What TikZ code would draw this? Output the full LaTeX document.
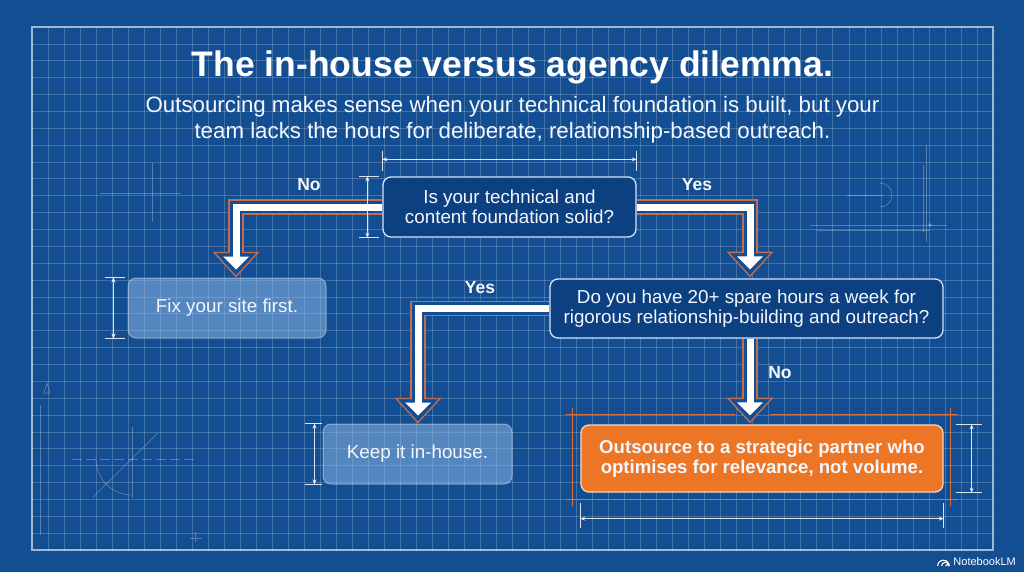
\documentclass[tikz,border=0pt]{standalone}
\usepackage{fontspec}
\setmainfont{Liberation Sans}
\usetikzlibrary{calc,arrows.meta}
\definecolor{bgc}{RGB}{19,78,147}
\definecolor{qfill}{RGB}{12,64,128}
\definecolor{qborder}{RGB}{214,228,245}
\definecolor{arroworange}{RGB}{196,108,80}
\definecolor{frameorange}{RGB}{220,112,60}
\definecolor{boxorange}{RGB}{236,117,38}
\definecolor{boxorangeborder}{RGB}{250,214,186}
\definecolor{lightbox}{RGB}{150,190,235}
\definecolor{txt}{RGB}{244,247,252}
\pgfdeclarelayer{bglayer}
\pgfdeclarelayer{arrowlayer}
\pgfsetlayers{bglayer,arrowlayer,main}
% #1 path operation, #2 start, #3 tip
\newcommand\bparrow[3][-|]{%
  \draw[arrowband] (#2) #1 ($(#3)+(0,-24)$);
  \filldraw[fill=bgc, draw=arroworange, line width=1.3, line join=miter] ($(#3)+(-22,-24)$) -- (#3) -- ($(#3)+(22,-24)$) -- cycle;
  \draw[arrowgap] (#2) #1 ($(#3)+(0,-23)$);
  \draw[arrowshaft] (#2) #1 ($(#3)+(0,-19)$);
  \fill[white] ($(#3)+(-13,-20)$) -- ($(#3)+(0,-7)$) -- ($(#3)+(13,-20)$) -- cycle;
}
\begin{document}
\begin{tikzpicture}[x=1pt,y=-1pt,
  gridline/.style={white, opacity=0.2, line width=0.7},
  framestyle/.style={white, opacity=0.6, line width=1.1},
  deco/.style={white, opacity=0.28, line width=0.7},
  dimline/.style={white, opacity=0.85, line width=0.8, {Stealth[length=5pt,width=4pt]}-{Stealth[length=5pt,width=4pt]}},
  dimtick/.style={white, opacity=0.85, line width=0.8},
  orangeframe/.style={frameorange, line width=1.1},
  arrowband/.style={draw=arroworange, line width=15.3, line join=miter},
  arrowgap/.style={draw=bgc, line width=12.7, line join=miter},
  arrowshaft/.style={draw=white, line width=7, line join=miter},
  boxtext/.style={text=txt, align=center, font=\fontsize{18.8}{20}\selectfont},
  qbox/.style={boxtext, draw=qborder, fill=qfill, line width=1.3, rounded corners=8, inner sep=0pt},
  lbox/.style={boxtext, draw=white, draw opacity=0.4, fill=lightbox, fill opacity=0.5, text opacity=1, line width=1, rounded corners=8, inner sep=0pt},
  obox/.style={boxtext, font=\fontsize{18.6}{19.5}\selectfont\bfseries, draw=boxorangeborder, fill=boxorange, line width=1.3, rounded corners=8, inner sep=0pt},
  lab/.style={text=txt, font=\fontsize{17.5}{20}\selectfont\bfseries, inner sep=0pt}
]
\useasboundingbox (0,0) rectangle (1024,572);

\begin{pgfonlayer}{bglayer}
\fill[bgc] (0,0) rectangle (1024,572);
\foreach \i in {1,...,59} \draw[gridline] ({32+\i*16.0167},27) -- ++(0,523);
\foreach \j in {1,...,30} \draw[gridline] (32,{27+\j*16.871}) -- ++(961,0);
\draw[framestyle] (32,27) rectangle (993,550);
% faint drafting marks
\draw[deco, dash pattern=on 10pt off 4pt] (72,459) -- (194,459);
\draw[deco] (132,427) -- (132,498);
\draw[deco] (93,497) -- (158,433);
\draw[deco] (96,459) arc[start angle=180, end angle=90, radius=36];
\draw[deco] (40,405) -- (40,535);
\draw[deco] (44,393) -- (50,393) -- (47,383) -- cycle;
\draw[deco] (190,538) -- (202,538) (195,532) -- (195,542);
\draw[deco] (100,193) -- (181,193);
\draw[deco] (152,163) -- (152,222);
\draw[deco] (923,165) -- (923,232);
\draw[deco] (926,145) -- (926,242);
\draw[deco] (810,225) -- (947,225);
\draw[deco] (817,230) -- (930,230);
\draw[deco] (847,195) -- (883,195);
\draw[deco] (880,183) arc[start angle=-90, end angle=90, radius=12];
\fill[white, opacity=0.3] (930,225) circle (1.8);
\end{pgfonlayer}

% title
\node[anchor=base, text=white, font=\fontsize{35.5}{40}\selectfont\bfseries, inner sep=0pt] (title) at (512.5,77) {The in-house versus agency dilemma.};
\node[text=txt, align=center, font=\fontsize{22.3}{26}\selectfont, inner sep=0pt] (subtitle) at (512.5,120)
  {Outsourcing makes sense when your technical foundation is built, but your\\team lacks the hours for deliberate, relationship-based outreach.};

% boxes
\node[qbox, minimum width=253, minimum height=60] (q1) at (509.5,207) {Is your technical and\\content foundation solid?};
\node[qbox, minimum width=393, minimum height=59] (q2) at (746.5,308.5) {Do you have 20+ spare hours a week for\\rigorous relationship-building and outreach?};
\node[lbox, minimum width=198, minimum height=60] (fix) at (227,308) {Fix your site first.};
\node[lbox, minimum width=189, minimum height=60] (keep) at (417.5,454) {Keep it in-house.};
\node[obox, minimum width=362, minimum height=67] (out) at (762,458.5) {Outsource to a strategic partner who\\optimises for relevance, not volume.};

% labels
\node[lab] (lno1) at (309,185) {No};
\node[lab] (lyes1) at (697,185) {Yes};
\node[lab] (lyes2) at (480,288) {Yes};
\node[lab] (lno2) at (780,373) {No};

% arrow tips
\coordinate (ta) at ($(fix.north)+(9,-1)$);
\coordinate (tb) at ($(q2.north)+(3.5,-2)$);
\coordinate (tc) at ($(keep.north)+(0.5,-1)$);
\coordinate (d0) at ($(q2.south)+(3.5,0)$);
\coordinate (td) at ($(out.north)+(-12,-2)$);

\begin{pgfonlayer}{arrowlayer}
\bparrow{q1.west}{ta}
\bparrow{q1.east}{tb}
\bparrow{q2.west}{tc}
\bparrow[--]{d0}{td}
\end{pgfonlayer}

% orange frame lines around the outcome
\draw[orangeframe] ($(out.north west)+(-14,-10)$) -- ($(out.north)+(-27,-10)$);
\draw[orangeframe] ($(out.north)+(8,-10)$) -- ($(out.north east)+(14,-10)$);
\draw[orangeframe] ($(out.south west)+(-14,6.5)$) -- ($(out.south east)+(14,6.5)$);
\draw[orangeframe] ($(out.north west)+(-8,-16)$) -- ($(out.south west)+(-8,13)$);
\draw[orangeframe] ($(out.north east)+(7,-16)$) -- ($(out.south east)+(7,13)$);

% dimension lines
\draw[dimline] ($(q1.north west)+(0,-17)$) -- ($(q1.north east)+(0,-17)$);
\draw[dimtick] ($(q1.north west)+(0,-25)$) -- ($(q1.north west)+(0,-5)$);
\draw[dimtick] ($(q1.north east)+(0,-25)$) -- ($(q1.north east)+(0,-5)$);
\draw[dimline] ($(q1.north west)+(-15,0)$) -- ($(q1.south west)+(-15,0)$);
\draw[dimtick] ($(q1.north west)+(-23,0)$) -- ($(q1.north west)+(-3,0)$);
\draw[dimtick] ($(q1.south west)+(-23,0)$) -- ($(q1.south west)+(-3,0)$);

\draw[dimline] ($(fix.north west)+(-14,0)$) -- ($(fix.south west)+(-14,0)$);
\draw[dimtick] ($(fix.north west)+(-23,0)$) -- ($(fix.north west)+(-3,0)$);
\draw[dimtick] ($(fix.south west)+(-23,0)$) -- ($(fix.south west)+(-3,0)$);

\draw[dimline] ($(keep.north west)+(-8,0)$) -- ($(keep.south west)+(-8,0)$);
\draw[dimtick] ($(keep.north west)+(-18,0)$) -- ($(keep.north west)+(-1,0)$);
\draw[dimtick] ($(keep.south west)+(-18,0)$) -- ($(keep.south west)+(-1,0)$);

\draw[dimline] ($(out.north east)+(28,0)$) -- ($(out.south east)+(28,0)$);
\draw[dimtick] ($(out.north east)+(12,0)$) -- ($(out.north east)+(38,0)$);
\draw[dimtick] ($(out.south east)+(12,0)$) -- ($(out.south east)+(38,0)$);
\draw[dimline] ($(out.south west)+(0,26)$) -- ($(out.south east)+(0,26)$);
\draw[dimtick] ($(out.south west)+(0,10)$) -- ($(out.south west)+(0,35)$);
\draw[dimtick] ($(out.south east)+(0,10)$) -- ($(out.south east)+(0,35)$);

% watermark
\node[anchor=east, text=white, font=\fontsize{11}{12}\selectfont, inner sep=0pt] (nblm) at (1016,562) {NotebookLM};
\foreach \r in {1.8,3.8,5.8} \draw[white, line width=1.1] ($(nblm.west)+(-4-2*\r,4)$) ++(0,0) arc[start angle=180, end angle=360, radius=\r];
\end{tikzpicture}
\end{document}
